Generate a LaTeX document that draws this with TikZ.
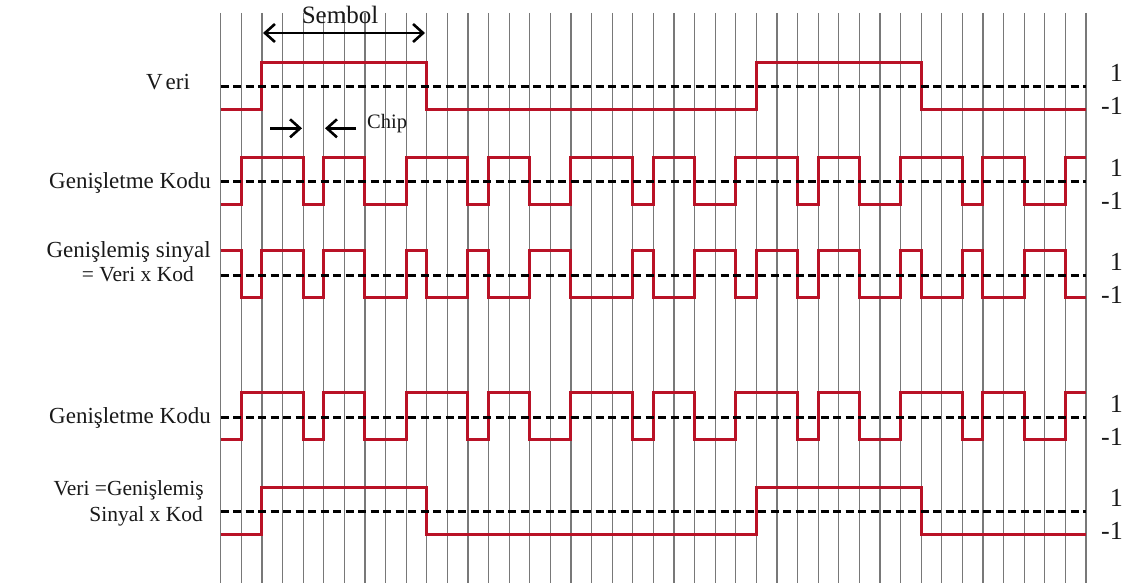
\documentclass[tikz,border=0pt]{standalone}
\usepackage{fontspec}
\setmainfont{Liberation Serif}
\usetikzlibrary{arrows.meta}
\definecolor{gridc}{RGB}{120,120,120}
\definecolor{sigc}{RGB}{185,18,38}
\definecolor{txtc}{RGB}{25,25,25}
\tikzset{
  gridline/.style={draw=gridc, line width=1.2pt},
  sig/.style={draw=sigc, line width=3pt, line join=miter},
  zeroline/.style={draw=black, line width=3pt, dash pattern=on 8pt off 4.5pt},
  lbl/.style={font=\fontsize{23}{25}\selectfont, text=txtc, inner sep=0pt},
  lblsm/.style={lbl, font=\fontsize{21.5}{24}\selectfont},
  lvl/.style={font=\fontsize{26}{28}\selectfont, text=txtc, inner sep=0pt, anchor=base east},
  dimarrow/.style={draw=black, line width=2.6pt, -{Straight Barb[length=10pt,width=18pt,line width=2.6pt]}},
  dimarrows/.style={draw=black, line width=2.6pt, {Straight Barb[length=10pt,width=18pt,line width=2.6pt]}-{Straight Barb[length=10pt,width=18pt,line width=2.6pt]}}
}
\newcommand\sigrow[3]{%
  \draw[sig] (220.7,{#1-1-23.5*#2}) \foreach \v [count=\i] in {#3} { -- ({220.7+20.6*(\i-1)},{#1-1-23.5*\v}) -- ({220.7+20.6*\i},{#1-1-23.5*\v}) };
  \draw[zeroline] (220.7,#1) -- (1086,#1);
  \node[lvl] at (1123,{#1-5}) {1};
  \node[lvl] at (1123,{#1+28}) {-1};
}
\begin{document}
\begin{tikzpicture}[x=1pt,y=-1pt]
\useasboundingbox (0,0) rectangle (1138,588);
% grid
\foreach \k in {0,...,42} { \draw[gridline] ({220.7+20.6*\k},13) -- ({220.7+20.6*\k},583); }
% row 1: data
\sigrow{86.7}{-1}{-1,-1,1,1,1,1,1,1,1,1,-1,-1,-1,-1,-1,-1,-1,-1,-1,-1,-1,-1,-1,-1,-1,-1,1,1,1,1,1,1,1,1,-1,-1,-1,-1,-1,-1,-1,-1}
% row 2: code
\sigrow{181.7}{-1}{-1,1,1,1,-1,1,1,-1,-1,1,1,1,-1,1,1,-1,-1,1,1,1,-1,1,1,-1,-1,1,1,1,-1,1,1,-1,-1,1,1,1,-1,1,1,-1,-1,1}
% row 3: spread
\sigrow{275}{1}{1,-1,1,1,-1,1,1,-1,-1,1,-1,-1,1,-1,-1,1,1,-1,-1,-1,1,-1,-1,1,1,-1,1,1,-1,1,1,-1,-1,1,-1,-1,1,-1,-1,1,1,-1}
% row 4: code
\sigrow{417.3}{-1}{-1,1,1,1,-1,1,1,-1,-1,1,1,1,-1,1,1,-1,-1,1,1,1,-1,1,1,-1,-1,1,1,1,-1,1,1,-1,-1,1,1,1,-1,1,1,-1,-1,1}
% row 5: recovered data
\sigrow{511.7}{-1}{-1,-1,1,1,1,1,1,1,1,1,-1,-1,-1,-1,-1,-1,-1,-1,-1,-1,-1,-1,-1,-1,-1,-1,1,1,1,1,1,1,1,1,-1,-1,-1,-1,-1,-1,-1,-1}
% left labels
\node[lbl, anchor=base] (veri) at (168,90) {V\kern3pt eri};
\node[lbl, anchor=base east] (kod1) at (211,189) {Genişletme Kodu};
\node[lbl, anchor=base east] (gs1) at (211,258) {Genişlemiş sinyal};
\node[lblsm, anchor=base east] (gs2) at (194,281.7) {= Veri x Kod};
\node[lbl, anchor=base east] (kod2) at (211,423) {Genişletme Kodu};
\node[lblsm, anchor=base east] (vd1) at (204,495) {Veri =Genişlemiş};
\node[lblsm, anchor=base east] (vd2) at (203,521.7) {Sinyal x Kod};
% symbol arrow
\node[lbl, anchor=base, font=\fontsize{25}{27}\selectfont] (sembol) at (340,23.5) {Sembol};
\coordinate (sA) at (263,33);
\coordinate (sB) at (425,33);
\draw[dimarrows] (sA) -- (sB);
% chip arrows
\coordinate (c1) at (270,128.3);
\coordinate (c2) at (302,128.3);
\coordinate (c3) at (356,128.3);
\coordinate (c4) at (325,128.3);
\draw[dimarrow] (c1) -- (c2);
\draw[dimarrow] (c3) -- (c4);
\node[lbl, anchor=base west, font=\fontsize{20.5}{22}\selectfont] (chip) at (367,128.3) {Chip};
\end{tikzpicture}
\end{document}
